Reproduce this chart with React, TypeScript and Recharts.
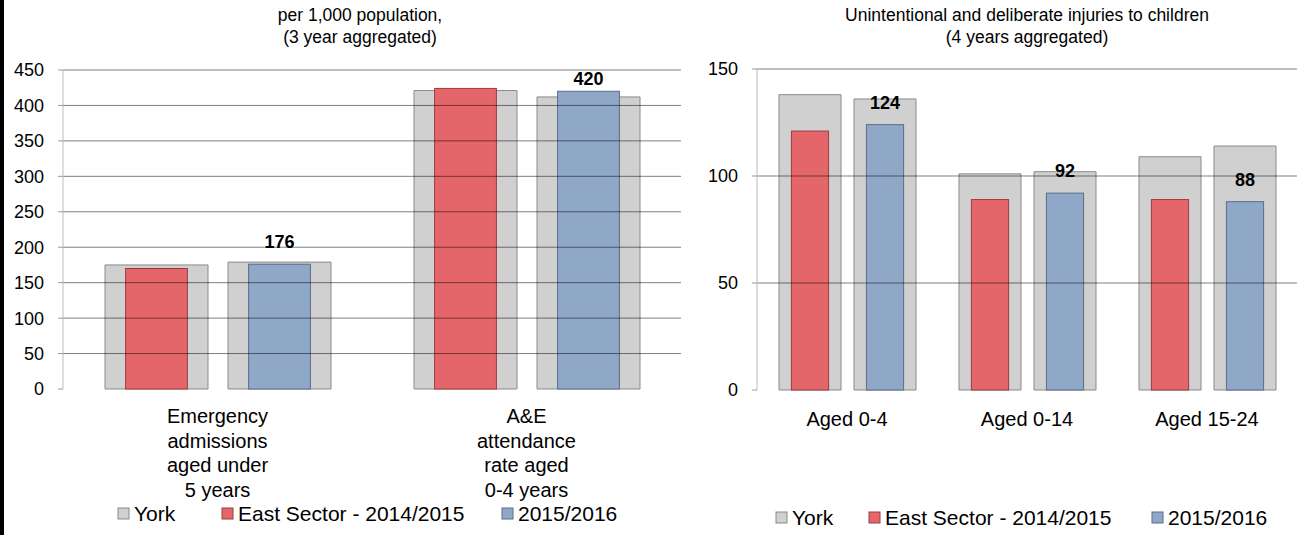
import React from "react";
import { BarChart, Bar, XAxis, YAxis, LabelList, ReferenceLine } from "recharts";

const FONT = '"Liberation Sans", Arial, sans-serif';

// left panel: per 1,000 population
const leftCategories = [
  "Emergency\nadmissions\naged under\n5 years",
  "A&E\nattendance\nrate aged\n0-4 years",
];
const leftYork1415 = [175, 421];
const leftEast1415 = [170, 424];
const leftYork1516 = [179, 412];
const leftEast1516 = [176, 420];
const leftTicks = [0, 50, 100, 150, 200, 250, 300, 350, 400, 450];

// right panel: injuries to children
const rightCategories = ["Aged 0-4", "Aged 0-14", "Aged 15-24"];
const rightYork1415 = [138, 101, 109];
const rightEast1415 = [121, 89, 89];
const rightYork1516 = [136, 102, 114];
const rightEast1516 = [124, 92, 88];
const rightTicks = [0, 50, 100, 150];

const legendNames = ["York", "East Sector - 2014/2015", "2015/2016"];

const GREY = "#d0d0d0";
const GREY_LINE = "#8a8a8a";
const RED = "#e4666a";
const RED_LINE = "#9c3c3f";
const BLUE = "#8fa8c8";
const BLUE_LINE = "#5a6d88";
const H = 535;

// coloured bars sit inside the York bars, narrower
const narrow = (ratio: number) => (props: any) => {
  const { x, y, width, height, fill, stroke } = props;
  if (!height || height <= 0) return null;
  const w = width * ratio;
  return (
    <rect x={x + (width - w) / 2} y={y} width={w} height={height} fill={fill} stroke={stroke} strokeWidth={1} />
  );
};

type PanelProps = {
  left: number;
  width: number;
  yWidth: number;
  rightPad: number;
  plotTop: number;
  plotBottom: number;
  categories: string[];
  york1: number[];
  east1: number[];
  york2: number[];
  east2: number[];
  ticks: number[];
  barSize: number;
  barGap: number;
  firstLine: number;
};

function Panel(p: PanelProps) {
  const rows = p.categories.map((c, i) => ({
    cat: c,
    york1: p.york1[i],
    york2: p.york2[i],
    east1: p.east1[i],
    east2: p.east2[i],
  }));
  const n = p.categories.length;
  const edges = Array.from({ length: n + 1 }, (_, i) => i);
  const top = p.ticks[p.ticks.length - 1];

  const CatTick = (t: any) => {
    const lines = String(t.payload.value).split("\n");
    return (
      <text x={t.x} y={t.y} textAnchor="middle" fontSize={20} fontFamily={FONT} fill="#000">
        {lines.map((l, i) => (
          <tspan key={i} x={t.x} dy={i === 0 ? p.firstLine : 24.5}>
            {l}
          </tspan>
        ))}
      </text>
    );
  };

  const ValueLabel = (l: any) => {
    const cx = l.x + l.width / 2;
    const base = Math.max(l.y - 16, p.plotTop + 15);
    return (
      <text x={cx} y={base} textAnchor="middle" fontSize={18} fontWeight="bold" fontFamily={FONT} fill="#000">
        {l.value}
      </text>
    );
  };

  return (
    <div style={{ position: "absolute", left: p.left, top: 0 }}>
      <BarChart
        width={p.width}
        height={H}
        data={rows}
        margin={{ top: p.plotTop, right: p.rightPad, left: 0, bottom: H - p.plotBottom - 40 }}
        barSize={p.barSize}
        barGap={p.barGap}
      >
        <XAxis
          xAxisId="edges"
          type="number"
          domain={[0, n]}
          ticks={edges}
          allowDataOverflow
          height={0}
          tickSize={6}
          tickFormatter={() => ""}
          axisLine={{ stroke: "#888888", strokeWidth: 2 }}
          tickLine={{ stroke: "#999999" }}
        />
        <XAxis
          xAxisId="back"
          dataKey="cat"
          height={40}
          axisLine={false}
          tickLine={false}
          tickSize={0}
          tickMargin={0}
          interval={0}
          tick={<CatTick />}
        />
        <XAxis xAxisId="front" dataKey="cat" hide />
        <YAxis
          domain={[0, top]}
          ticks={p.ticks}
          width={p.yWidth}
          interval={0}
          tickSize={5}
          tickMargin={14}
          axisLine={{ stroke: "#bdbdbd" }}
          tickLine={{ stroke: "#999999" }}
          tick={{ fontSize: 18, fontFamily: FONT, fill: "#000" }}
        />
        <YAxis
          yAxisId="border"
          orientation="right"
          domain={[0, 1]}
          width={0}
          tick={false}
          tickLine={false}
          axisLine={{ stroke: "#bdbdbd" }}
        />
        <Bar xAxisId="back" dataKey="york1" fill={GREY} stroke={GREY_LINE} isAnimationActive={false} />
        <Bar xAxisId="back" dataKey="york2" fill={GREY} stroke={GREY_LINE} isAnimationActive={false} />
        <Bar xAxisId="front" dataKey="east1" fill={RED} stroke={RED_LINE} shape={narrow(0.6)} isAnimationActive={false} />
        <Bar xAxisId="front" dataKey="east2" fill={BLUE} stroke={BLUE_LINE} shape={narrow(0.6)} isAnimationActive={false}>
          <LabelList dataKey="east2" content={<ValueLabel />} />
        </Bar>
        {p.ticks
          .filter((v) => v > 0)
          .map((v) => (
            <ReferenceLine key={v} xAxisId="back" y={v} stroke="rgba(0,0,0,0.5)" strokeWidth={1} />
          ))}
      </BarChart>
    </div>
  );
}

function Legend({ x, baseline }: { x: number[]; baseline: number }) {
  const fills = [GREY, RED, BLUE];
  const lines = [GREY_LINE, RED_LINE, BLUE_LINE];
  return (
    <g>
      {legendNames.map((name, i) => (
        <g key={name}>
          <rect x={x[i]} y={baseline - 13} width={11} height={11} fill={fills[i]} stroke={lines[i]} />
          <text x={x[i] + 16} y={baseline} fontSize={21} fontFamily={FONT} fill="#000">
            {name}
          </text>
        </g>
      ))}
    </g>
  );
}

export default function App() {
  return (
    <div style={{ position: "absolute", left: 0, top: 0, width: 1311, height: H, background: "#fff", overflow: "hidden" }}>
      <Panel
        left={0}
        width={700}
        yWidth={63}
        rightPad={19}
        plotTop={70}
        plotBottom={389}
        categories={leftCategories}
        york1={leftYork1415}
        east1={leftEast1415}
        york2={leftYork1516}
        east2={leftEast1516}
        ticks={leftTicks}
        barSize={103}
        barGap={20}
        firstLine={34}
      />
      <Panel
        left={690}
        width={621}
        yWidth={67}
        rightPad={14}
        plotTop={69}
        plotBottom={390}
        categories={rightCategories}
        york1={rightYork1415}
        east1={rightEast1415}
        york2={rightYork1516}
        east2={rightEast1516}
        ticks={rightTicks}
        barSize={62}
        barGap={13}
        firstLine={36}
      />
      <svg width={1311} height={H} style={{ position: "absolute", left: 0, top: 0, pointerEvents: "none" }}>
        <rect x={0} y={0} width={4} height={H} fill="#000" />
        <g fontFamily={FONT} fontSize={17.5} fill="#000" textAnchor="middle">
          <text x={360} y={21}>per 1,000 population,</text>
          <text x={360} y={43}>(3 year aggregated)</text>
          <text x={1027} y={21}>Unintentional and deliberate injuries to children</text>
          <text x={1027} y={43}>(4 years aggregated)</text>
        </g>
        <Legend x={[118, 222, 502]} baseline={521} />
        <Legend x={[776, 869, 1152]} baseline={525} />
      </svg>
    </div>
  );
}
